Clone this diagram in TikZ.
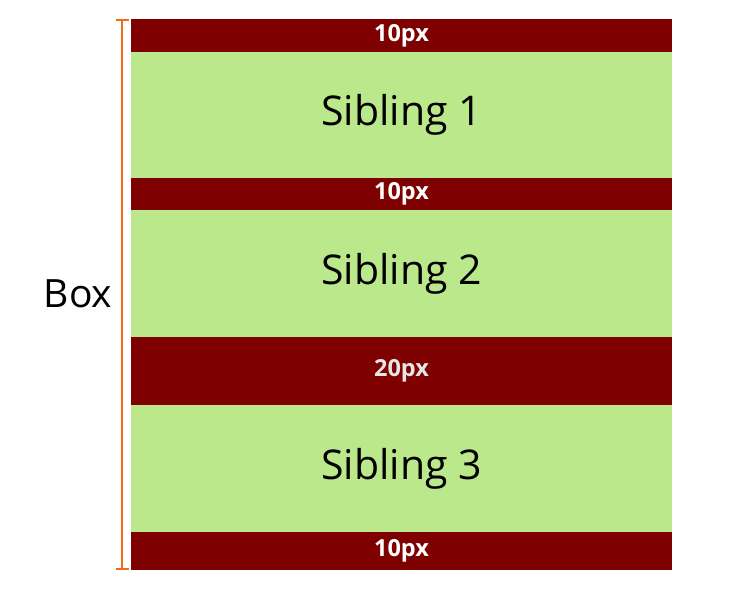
\documentclass[tikz,border=0pt]{standalone}
\usepackage{fontspec}
\setmainfont{Open Sans}
\usetikzlibrary{arrows.meta}
\definecolor{127_0_0}{RGB}{127, 0, 0}
\definecolor{187_232_139}{RGB}{187, 232, 139}
\definecolor{242_106_27}{RGB}{242, 106, 27}
\definecolor{230_230_230}{RGB}{230, 230, 230}

\begin{document}
\begin{tikzpicture}[
        x=1pt, y=-1pt,
        band/.style={
            inner sep=0pt,
            outer sep=0pt,
            minimum width=541pt
        },
        gap/.style={
            band,
            fill=127_0_0,
            text=white,
            font=\fontsize{23.5}{26}\selectfont\bfseries
        },
        sibling/.style={
            band,
            fill=187_232_139,
            text=black,
            font=\fontsize{41}{44}\selectfont
        }
    ]
    \useasboundingbox (0,0) rectangle (752,590);

    \node[gap, minimum height=33pt] (gap1) at (401.5,35.5) {10px};
    \node[sibling, minimum height=126pt] (sib1) at (401.5,115) {Sibling 1};
    \node[gap, minimum height=32pt] (gap2) at (401.5,194) {10px};
    \node[sibling, minimum height=127pt] (sib2) at (401.5,273.5) {Sibling 2};
    \node[gap, minimum height=68pt, text=230_230_230] (gap3) at (401.5,371) {20px};
    \node[sibling, minimum height=127pt] (sib3) at (401.5,468.5) {Sibling 3};
    \node[gap, minimum height=38pt] (gap4) at (401.5,551) {10px};

    % height of the box
    \coordinate (boxtop) at (122,19);
    \coordinate (boxbot) at (122,570);
    \draw[242_106_27, line width=2pt, {Bar[width=13pt]}-{Bar[width=13pt]}] (boxtop) -- (boxbot);
    \node[font=\fontsize{39}{42}\selectfont] (box) at (78,294) {Box};
\end{tikzpicture}
\end{document}
